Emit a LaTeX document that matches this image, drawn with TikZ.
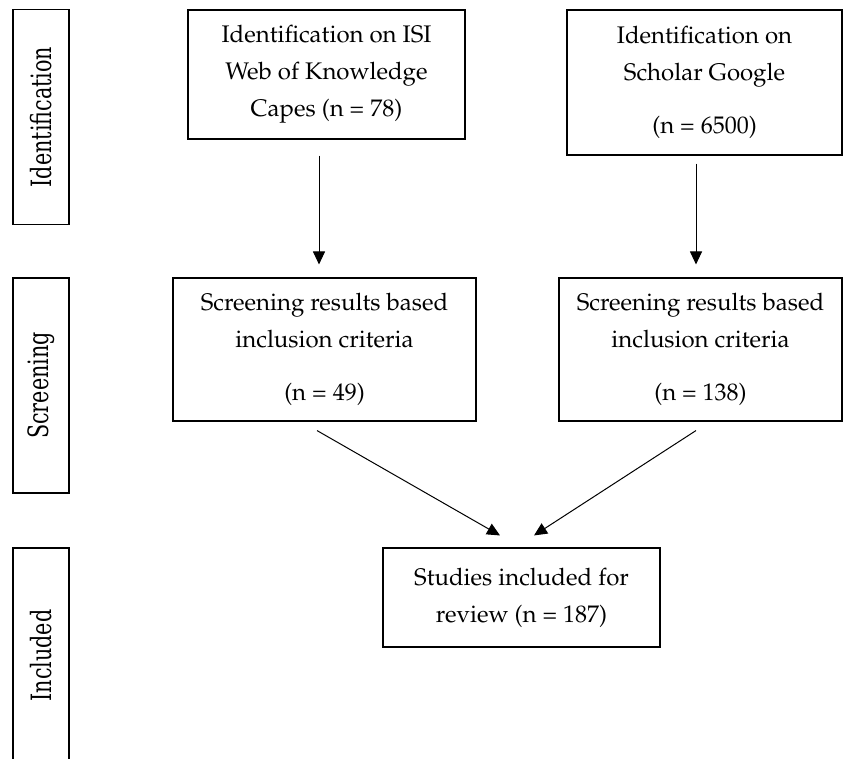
\documentclass[tikz,border=0pt]{standalone}
\usepackage[T1]{fontenc}
\usepackage{fontspec}
\usepackage{tikz}
\usetikzlibrary{arrows.meta,positioning}
\newfontfamily\stagefont{DejaVu Serif}
\newcommand{\boxfont}{\usefont{T1}{ppl}{m}{n}\fontsize{24}{37}\selectfont}
\newcommand{\stagetext}[1]{\scalebox{0.74}[1]{#1}}

\begin{document}
\begin{tikzpicture}[x=1pt, y=-1pt, >={Triangle[length=13pt,width=12pt]},
    stagebox/.style={draw, line width=1.1pt, rotate=90, minimum width=215pt, minimum height=56pt, inner sep=0pt, font=\stagefont\fontsize{28}{32}\selectfont},
    recbox/.style={draw, line width=1.1pt, align=center, inner sep=0pt, font=\boxfont},
    flow/.style={->, line width=1pt}]
      \useasboundingbox (0,0) rectangle (843,758);
      % stage labels on the left
      \node[stagebox] (idlab) at (41,117) {\stagetext{Identification}};
      \node[stagebox] (scrlab) at (41,385.5) {\stagetext{Screening}};
      \node[stagebox] (inclab) at (41,655.5) {\stagetext{Included}};
      % boxes
      \node[recbox, minimum width=277pt, minimum height=129pt] (isi) at (326.5,74.5) {Identification on ISI\\Web of Knowledge\\Capes (n = 78)};
      \node[recbox, minimum width=275pt, minimum height=145pt] (scholar) at (704.5,82.5) {Identification on\\Scholar Google\\[16pt](n = 6500)};
      \node[recbox, minimum width=303pt, minimum height=143pt] (scrisi) at (324.5,349.5) {Screening results based\\inclusion criteria\\[16pt](n = 49)};
      \node[recbox, minimum width=283pt, minimum height=143pt] (scrsch) at (700.5,349.5) {Screening results based\\inclusion criteria\\[16pt](n = 138)};
      \node[recbox, minimum width=277pt, minimum height=99pt] (incl) at (521.5,597.5) {Studies included for\\review (n = 187)};
      % arrows
      \draw[flow] ([xshift=-7.5pt,yshift=-16pt]isi.south) -- ([xshift=-5.5pt,yshift=13pt]scrisi.north);
      \draw[flow] ([xshift=-8.5pt,yshift=-8pt]scholar.south) -- ([xshift=-4.5pt,yshift=13pt]scrsch.north);
      \draw[flow] ([xshift=-7.5pt,yshift=-9pt]scrisi.south) -- ([xshift=-21.5pt,yshift=12pt]incl.north);
      \draw[flow] ([xshift=-4.5pt,yshift=-9pt]scrsch.south) -- ([xshift=12.5pt,yshift=12pt]incl.north);
    \end{tikzpicture}
\end{document}
